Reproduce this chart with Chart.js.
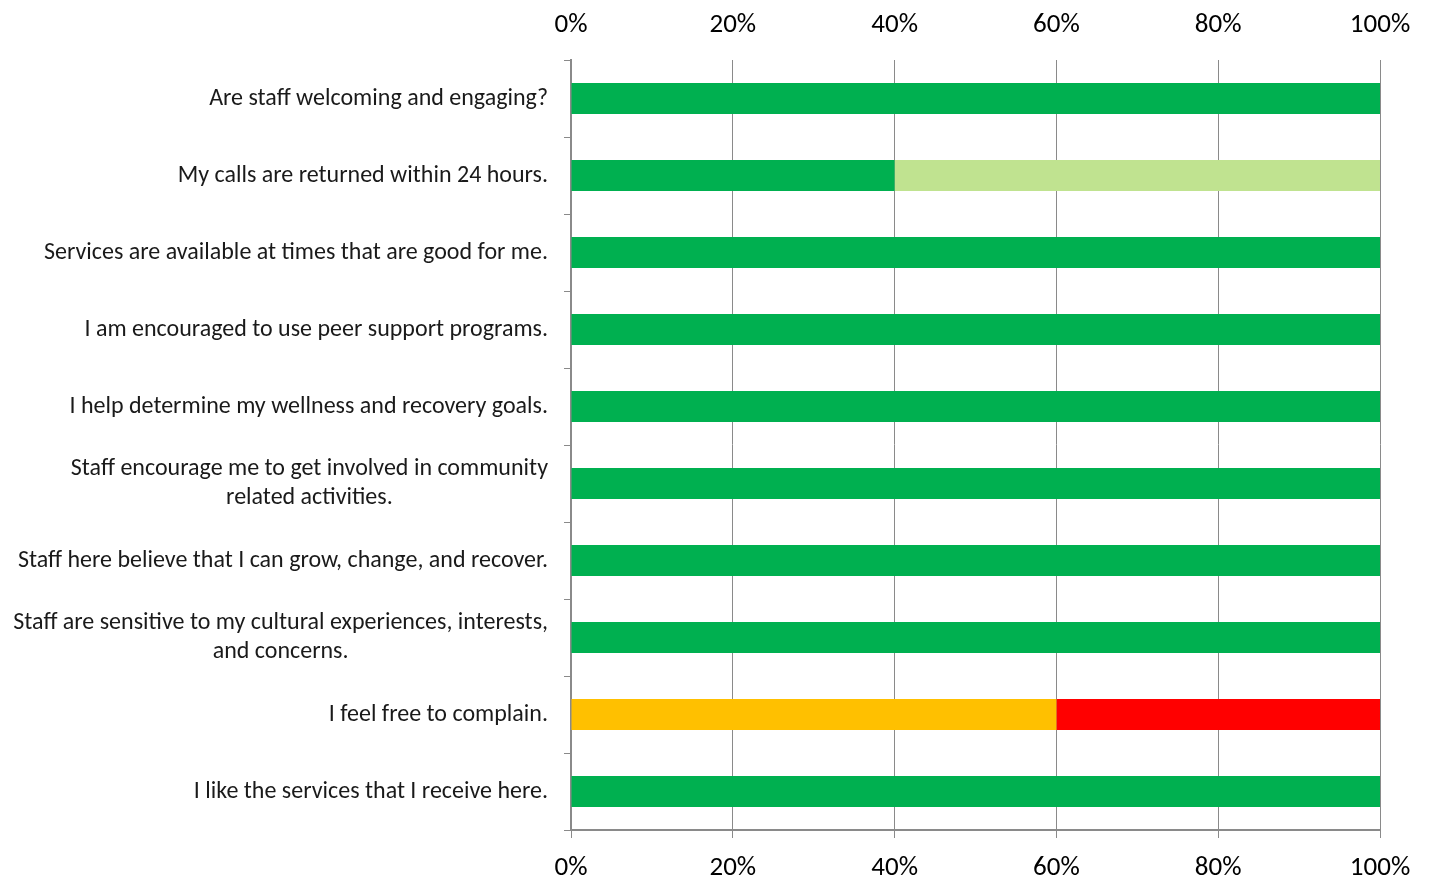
<!DOCTYPE html>
<html>
<head>
<meta charset="utf-8">
<script src="https://cdn.jsdelivr.net/npm/chart.js@4.4.1/dist/chart.umd.min.js"></script>
<style>
  html, body { margin: 0; padding: 0; background: #fff; }
  #wrap { width: 1432px; height: 882px; }
</style>
</head>
<body>
<div id="wrap"><canvas id="survey"></canvas></div>
<script>
    // survey statements, one bar per statement (multi-line ones split into arrays)
    const statements = [
        "Are staff welcoming and engaging?",
        "My calls are returned within 24 hours.",
        "Services are available at times that are good for me.",
        "I am encouraged to use peer support programs.",
        "I help determine my wellness and recovery goals.",
        ["Staff encourage me to get involved in community", "related activities."],
        "Staff here believe that I can grow, change, and recover.",
        ["Staff are sensitive to my cultural experiences, interests,", "and concerns."],
        "I feel free to complain.",
        "I like the services that I receive here."
    ];

    // percent of answers per response
    const stronglyAgree = [100, 40, 100, 100, 100, 100, 100, 100, 0, 100];
    const agree         = [0, 60, 0, 0, 0, 0, 0, 0, 0, 0];
    const neutral       = [0, 0, 0, 0, 0, 0, 0, 0, 60, 0];
    const disagree      = [0, 0, 0, 0, 0, 0, 0, 0, 40, 0];

    const percentTicks = [0, 20, 40, 60, 80, 100];

    const FONT = "Carlito, Lato, 'Open Sans', sans-serif";
    const AXIS_GRAY = '#8a8a8a';

    function setPercentTicks(scale) {
        scale.ticks = percentTicks.map(v => ({ value: v }));
    }

    // statement labels: right aligned block, wrapped lines centred inside it
    const statementLabels = {
        id: 'statementLabels',
        afterDraw(chart) {
            const ctx = chart.ctx;
            const y = chart.scales.y;
            const right = chart.chartArea.left - 23;
            ctx.save();
            ctx.font = "24px " + FONT;
            ctx.fillStyle = '#1a1a1a';
            ctx.textBaseline = 'middle';
            statements.forEach((s, i) => {
                const cy = y.getPixelForValue(i);
                if (Array.isArray(s)) {
                    const widest = Math.max(...s.map(t => ctx.measureText(t).width));
                    const cx = right - widest / 2;
                    const lh = 29;
                    ctx.textAlign = 'center';
                    s.forEach((t, k) => {
                        ctx.fillText(t, cx, cy + (k - (s.length - 1) / 2) * lh);
                    });
                } else {
                    ctx.textAlign = 'right';
                    ctx.fillText(s, right, cy);
                }
            });
            ctx.restore();
        }
    };

    const ctx = document.getElementById('survey').getContext('2d');
    const chart = new Chart(ctx, {
        type: 'bar',
        data: {
            labels: statements,
            datasets: [
                { label: 'Strongly Agree', data: stronglyAgree, backgroundColor: '#00b050' },
                { label: 'Agree', data: agree, backgroundColor: '#c0e390' },
                { label: 'Neutral', data: neutral, backgroundColor: '#ffc000' },
                { label: 'Disagree', data: disagree, backgroundColor: '#ff0000' }
            ]
        },
        options: {
            indexAxis: 'y',
            responsive: true,
            maintainAspectRatio: false,
            animation: false,
            layout: { padding: { left: 0, right: 52, top: 0, bottom: 0 } },
            datasets: {
                bar: { categoryPercentage: 1, barPercentage: 0.4, borderWidth: 0 }
            },
            plugins: {
                legend: { display: false },
                tooltip: { enabled: false },
                title: { display: false }
            },
            scales: {
                x: {
                    type: 'linear',
                    position: 'bottom',
                    stacked: true,
                    min: 0,
                    max: 100,
                    afterBuildTicks: setPercentTicks,
                    afterFit(s) { s.height = 52; },
                    grid: { color: AXIS_GRAY, lineWidth: 1, drawTicks: true, tickLength: 8, tickColor: AXIS_GRAY },
                    border: { display: true, color: AXIS_GRAY, width: 2 },
                    ticks: {
                        padding: 14,
                        color: '#000',
                        font: { family: FONT, size: 27 },
                        callback: v => v + '%'
                    }
                },
                xTop: {
                    type: 'linear',
                    position: 'top',
                    min: 0,
                    max: 100,
                    afterBuildTicks: setPercentTicks,
                    afterFit(s) { s.height = 60; },
                    grid: { display: false, drawTicks: false },
                    border: { display: false },
                    ticks: {
                        padding: 19,
                        color: '#000',
                        font: { family: FONT, size: 27 },
                        callback: v => v + '%'
                    }
                },
                y: {
                    type: 'category',
                    stacked: true,
                    afterFit(s) { s.width = 571; },
                    grid: {
                        offset: true,
                        drawOnChartArea: false,
                        drawTicks: true,
                        tickLength: 7,
                        color: AXIS_GRAY,
                        tickColor: AXIS_GRAY
                    },
                    border: { display: true, color: AXIS_GRAY, width: 2 },
                    ticks: { display: false }
                }
            }
        },
        plugins: [statementLabels]
    });
</script>
</body>
</html>
